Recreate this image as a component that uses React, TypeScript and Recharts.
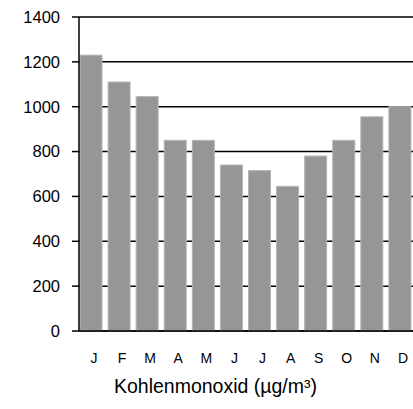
import React from "react";
import { BarChart, Bar, XAxis, YAxis, CartesianGrid } from "recharts";

const months = ["J", "F", "M", "A", "M", "J", "J", "A", "S", "O", "N", "D"];
const coValues = [1230, 1110, 1045, 850, 850, 740, 715, 645, 780, 850, 955, 1000];
const yTicks = [0, 200, 400, 600, 800, 1000, 1200, 1400];
const axisTitle = "Kohlenmonoxid (µg/m³)";

const data = months.map((m, i) => ({ key: i, month: m, value: coValues[i] }));

const FONT = "'Liberation Sans', Arial, sans-serif";

const MonthTick = (props: any) => {
  const { x, y, payload } = props;
  return (
    <text
      x={x + 1}
      y={y + 24}
      textAnchor="middle"
      fontFamily={FONT}
      fontSize={14}
      fill="#000"
    >
      {months[payload.value]}
    </text>
  );
};

const ShiftedBar = (props: any) => {
  const { x, y, width, height } = props;
  return (
    <rect
      x={x - 2}
      y={y}
      width={width}
      height={height}
      fill="#969696"
      stroke="#b4b4b4"
      strokeWidth={1}
    />
  );
};

export default function App() {
  return (
    <div
      style={{
        position: "absolute",
        left: 0,
        top: 0,
        width: 413,
        height: 409,
        overflow: "hidden",
        background: "#fff",
      }}
    >
      <BarChart
        width={416}
        height={409}
        data={data}
        margin={{ top: 17, right: 0, left: 0, bottom: 0 }}
        barCategoryGap={0}
      >
        <CartesianGrid vertical={false} stroke="#000" strokeWidth={1.5} />
        <XAxis
          dataKey="key"
          type="category"
          height={78}
          tickLine={false}
          axisLine={{ stroke: "#000", strokeWidth: 1.5 }}
          tick={<MonthTick />}
          interval={0}
          label={{
            value: axisTitle,
            position: "insideBottom",
            offset: 16,
            dx: -32,
            style: { fontFamily: FONT, fontSize: 19.5, fill: "#000" },
          }}
        />
        <YAxis
          width={79}
          domain={[0, 1400]}
          ticks={yTicks}
          interval={0}
          tickSize={7}
          tickMargin={12}
          tickLine={{ stroke: "#000", strokeWidth: 1.5 }}
          axisLine={{ stroke: "#000", strokeWidth: 1.5 }}
          tick={{ fontFamily: FONT, fontSize: 16.5, fill: "#000" }}
        />
        <Bar
          dataKey="value"
          barSize={22}
          isAnimationActive={false}
          shape={<ShiftedBar />}
        />
      </BarChart>
    </div>
  );
}
